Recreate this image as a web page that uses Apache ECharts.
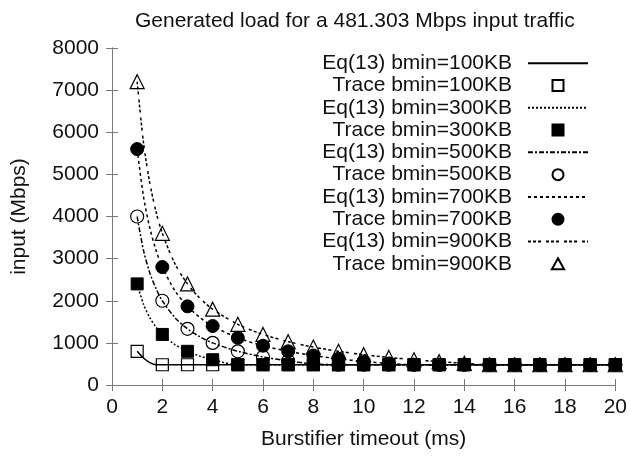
<!DOCTYPE html>
<html>
<head>
<meta charset="utf-8">
<script src="https://cdn.jsdelivr.net/npm/echarts@6/dist/echarts.min.js"></script>
<style>
  html, body { margin: 0; padding: 0; background: #fff; }
  #chart { width: 630px; height: 457px; }
</style>
</head>
<body>
<div id="chart"></div>
<script>
    // burstifier timeout (ms), trace points
    var timeout = [1, 2, 3, 4, 5, 6, 7, 8, 9, 10, 11, 12, 13, 14, 15, 16, 17, 18, 19, 20];
    var trace100 = [800, 481, 481, 481, 481, 481, 481, 481, 481, 481, 481, 481, 481, 481, 481, 481, 481, 481, 481, 481];
    var trace300 = [2400, 1200, 800, 600, 481, 481, 481, 481, 481, 481, 481, 481, 481, 481, 481, 481, 481, 481, 481, 481];
    var trace500 = [4000, 2000, 1333, 1000, 800, 667, 571, 500, 481, 481, 481, 481, 481, 481, 481, 481, 481, 481, 481, 481];
    var trace700 = [5600, 2800, 1867, 1400, 1120, 933, 800, 700, 622, 560, 509, 481, 481, 481, 481, 481, 481, 481, 481, 481];
    var trace900 = [7200, 3600, 2400, 1800, 1440, 1200, 1029, 900, 800, 720, 655, 600, 554, 514, 481, 481, 481, 481, 481, 481];

    // Eq(13) curves, read at a finer step
    var eqT = [1, 1.25, 1.5, 1.75, 2, 2.5, 3, 3.5, 4, 5, 6, 7, 8, 9, 10, 11, 12, 13, 14, 15, 16, 17, 18, 19, 20];
    var eq100 = [800, 640, 533, 481, 481, 481, 481, 481, 481, 481, 481, 481, 481, 481, 481, 481, 481, 481, 481, 481, 481, 481, 481, 481, 481];
    var eq300 = [2400, 1920, 1600, 1371, 1200, 960, 800, 686, 600, 481, 481, 481, 481, 481, 481, 481, 481, 481, 481, 481, 481, 481, 481, 481, 481];
    var eq500 = [4000, 3200, 2667, 2286, 2000, 1600, 1333, 1143, 1000, 800, 667, 571, 500, 481, 481, 481, 481, 481, 481, 481, 481, 481, 481, 481, 481];
    var eq700 = [5600, 4480, 3733, 3200, 2800, 2240, 1867, 1600, 1400, 1120, 933, 800, 700, 622, 560, 509, 481, 481, 481, 481, 481, 481, 481, 481, 481];
    var eq900 = [7200, 5760, 4800, 4114, 3600, 2880, 2400, 2057, 1800, 1440, 1200, 1029, 900, 800, 720, 655, 600, 554, 514, 481, 481, 481, 481, 481, 481];

    var xTicks = [0, 2, 4, 6, 8, 10, 12, 14, 16, 18, 20];
    var yTicks = [0, 1000, 2000, 3000, 4000, 5000, 6000, 7000, 8000];

    var FONT = 'Liberation Sans, Arial, sans-serif';
    var INK = '#111';
    var FRAME = '#7a7a7a';
    var SQUARE = 'path://M0,0H10V10H0Z';
    var TRIANGLE = 'path://M5,0L10,9L0,9Z';

    function pairs(xs, ys) {
        var out = [];
        for (var i = 0; i < xs.length; i++) { out.push([xs[i], ys[i]]); }
        return out;
    }

    function eqSeries(name, ys, dash) {
        return {
            name: name,
            type: 'line',
            data: pairs(eqT, ys),
            symbol: 'none',
            smooth: 0.3,
            lineStyle: { color: '#000', width: 1.5, type: dash },
            itemStyle: { color: 'rgba(0,0,0,0)' },   // hides the dot in the legend icon
            z: 2
        };
    }

    function traceSeries(name, ys, symbol, size, filled) {
        return {
            name: name,
            type: 'scatter',
            data: pairs(timeout, ys),
            symbol: symbol,
            symbolSize: size,
            itemStyle: filled
                ? { color: '#000', borderColor: '#000', borderWidth: 1, opacity: 1 }
                : { color: 'rgba(255,255,255,0)', borderColor: '#000', borderWidth: 1.2, opacity: 1 },
            z: 3
        };
    }

    var axisCommon = {
        type: 'value',
        axisLine: { show: true, lineStyle: { color: FRAME, width: 1 } },
        axisTick: { show: true, inside: true, length: 6, lineStyle: { color: FRAME } },
        splitLine: { show: false }
    };

    option = {
        animation: false,
        backgroundColor: '#fff',
        textStyle: { fontFamily: FONT },
        title: {
            text: 'Generated load for a 481.303 Mbps input traffic',
            left: 130,
            top: 6,
            textStyle: { fontFamily: FONT, fontSize: 21, fontWeight: 'normal', color: INK }
        },
        grid: { left: 112, right: 13, top: 48, bottom: 72 },
        legend: {
            orient: 'vertical',
            align: 'right',
            right: 41,
            top: 52,
            padding: 0,
            itemGap: 0,
            itemWidth: 60,
            itemHeight: 11,
            symbolKeepAspect: true,
            textStyle: { fontFamily: FONT, fontSize: 21, color: INK, lineHeight: 22.3, padding: [0, 11, 0, 0] },
            data: [
                { name: 'Eq(13) bmin=100KB' },
                { name: 'Trace bmin=100KB', icon: SQUARE },
                { name: 'Eq(13) bmin=300KB' },
                { name: 'Trace bmin=300KB', icon: SQUARE },
                { name: 'Eq(13) bmin=500KB' },
                { name: 'Trace bmin=500KB', icon: 'circle' },
                { name: 'Eq(13) bmin=700KB' },
                { name: 'Trace bmin=700KB', icon: 'circle' },
                { name: 'Eq(13) bmin=900KB' },
                { name: 'Trace bmin=900KB', icon: TRIANGLE }
            ]
        },
        xAxis: [
            Object.assign({}, axisCommon, {
                min: 0, max: 20, interval: 2,
                name: 'Burstifier timeout (ms)',
                nameLocation: 'middle',
                nameGap: 44,
                nameTextStyle: { fontFamily: FONT, fontSize: 21, color: INK },
                axisLabel: {
                    margin: 12, fontFamily: FONT, fontSize: 21, color: INK,
                    customValues: xTicks,
                    formatter: function (v) { return String(v); }
                }
            }),
            Object.assign({}, axisCommon, {
                min: 0, max: 20, interval: 2, position: 'top',
                axisLabel: { show: false }
            })
        ],
        yAxis: [
            Object.assign({}, axisCommon, {
                min: 0, max: 8000, interval: 1000,
                name: 'input (Mbps)',
                nameLocation: 'middle',
                nameGap: 82,
                nameTextStyle: { fontFamily: FONT, fontSize: 21, color: INK },
                axisLabel: {
                    margin: 13, fontFamily: FONT, fontSize: 21, color: INK,
                    customValues: yTicks,
                    formatter: function (v) { return String(v); }
                }
            }),
            Object.assign({}, axisCommon, {
                min: 0, max: 8000, interval: 1000, position: 'right',
                axisLabel: { show: false }
            })
        ],
        series: [
            eqSeries('Eq(13) bmin=100KB', eq100, 'solid'),
            traceSeries('Trace bmin=100KB', trace100, 'rect', 12, false),
            eqSeries('Eq(13) bmin=300KB', eq300, [2, 2]),
            traceSeries('Trace bmin=300KB', trace300, 'rect', 12, true),
            eqSeries('Eq(13) bmin=500KB', eq500, [5, 2, 2, 2]),
            traceSeries('Trace bmin=500KB', trace500, 'circle', 13, false),
            eqSeries('Eq(13) bmin=700KB', eq700, [3, 3]),
            traceSeries('Trace bmin=700KB', trace700, 'circle', 13, true),
            eqSeries('Eq(13) bmin=900KB', eq900, [3, 2, 3, 2, 3, 5]),
            traceSeries('Trace bmin=900KB', trace900, 'triangle', 14, false)
        ]
    };

    var myChart = echarts.init(document.getElementById('chart'), null, { renderer: 'canvas' });
    myChart.setOption(option);
</script>
</body>
</html>
